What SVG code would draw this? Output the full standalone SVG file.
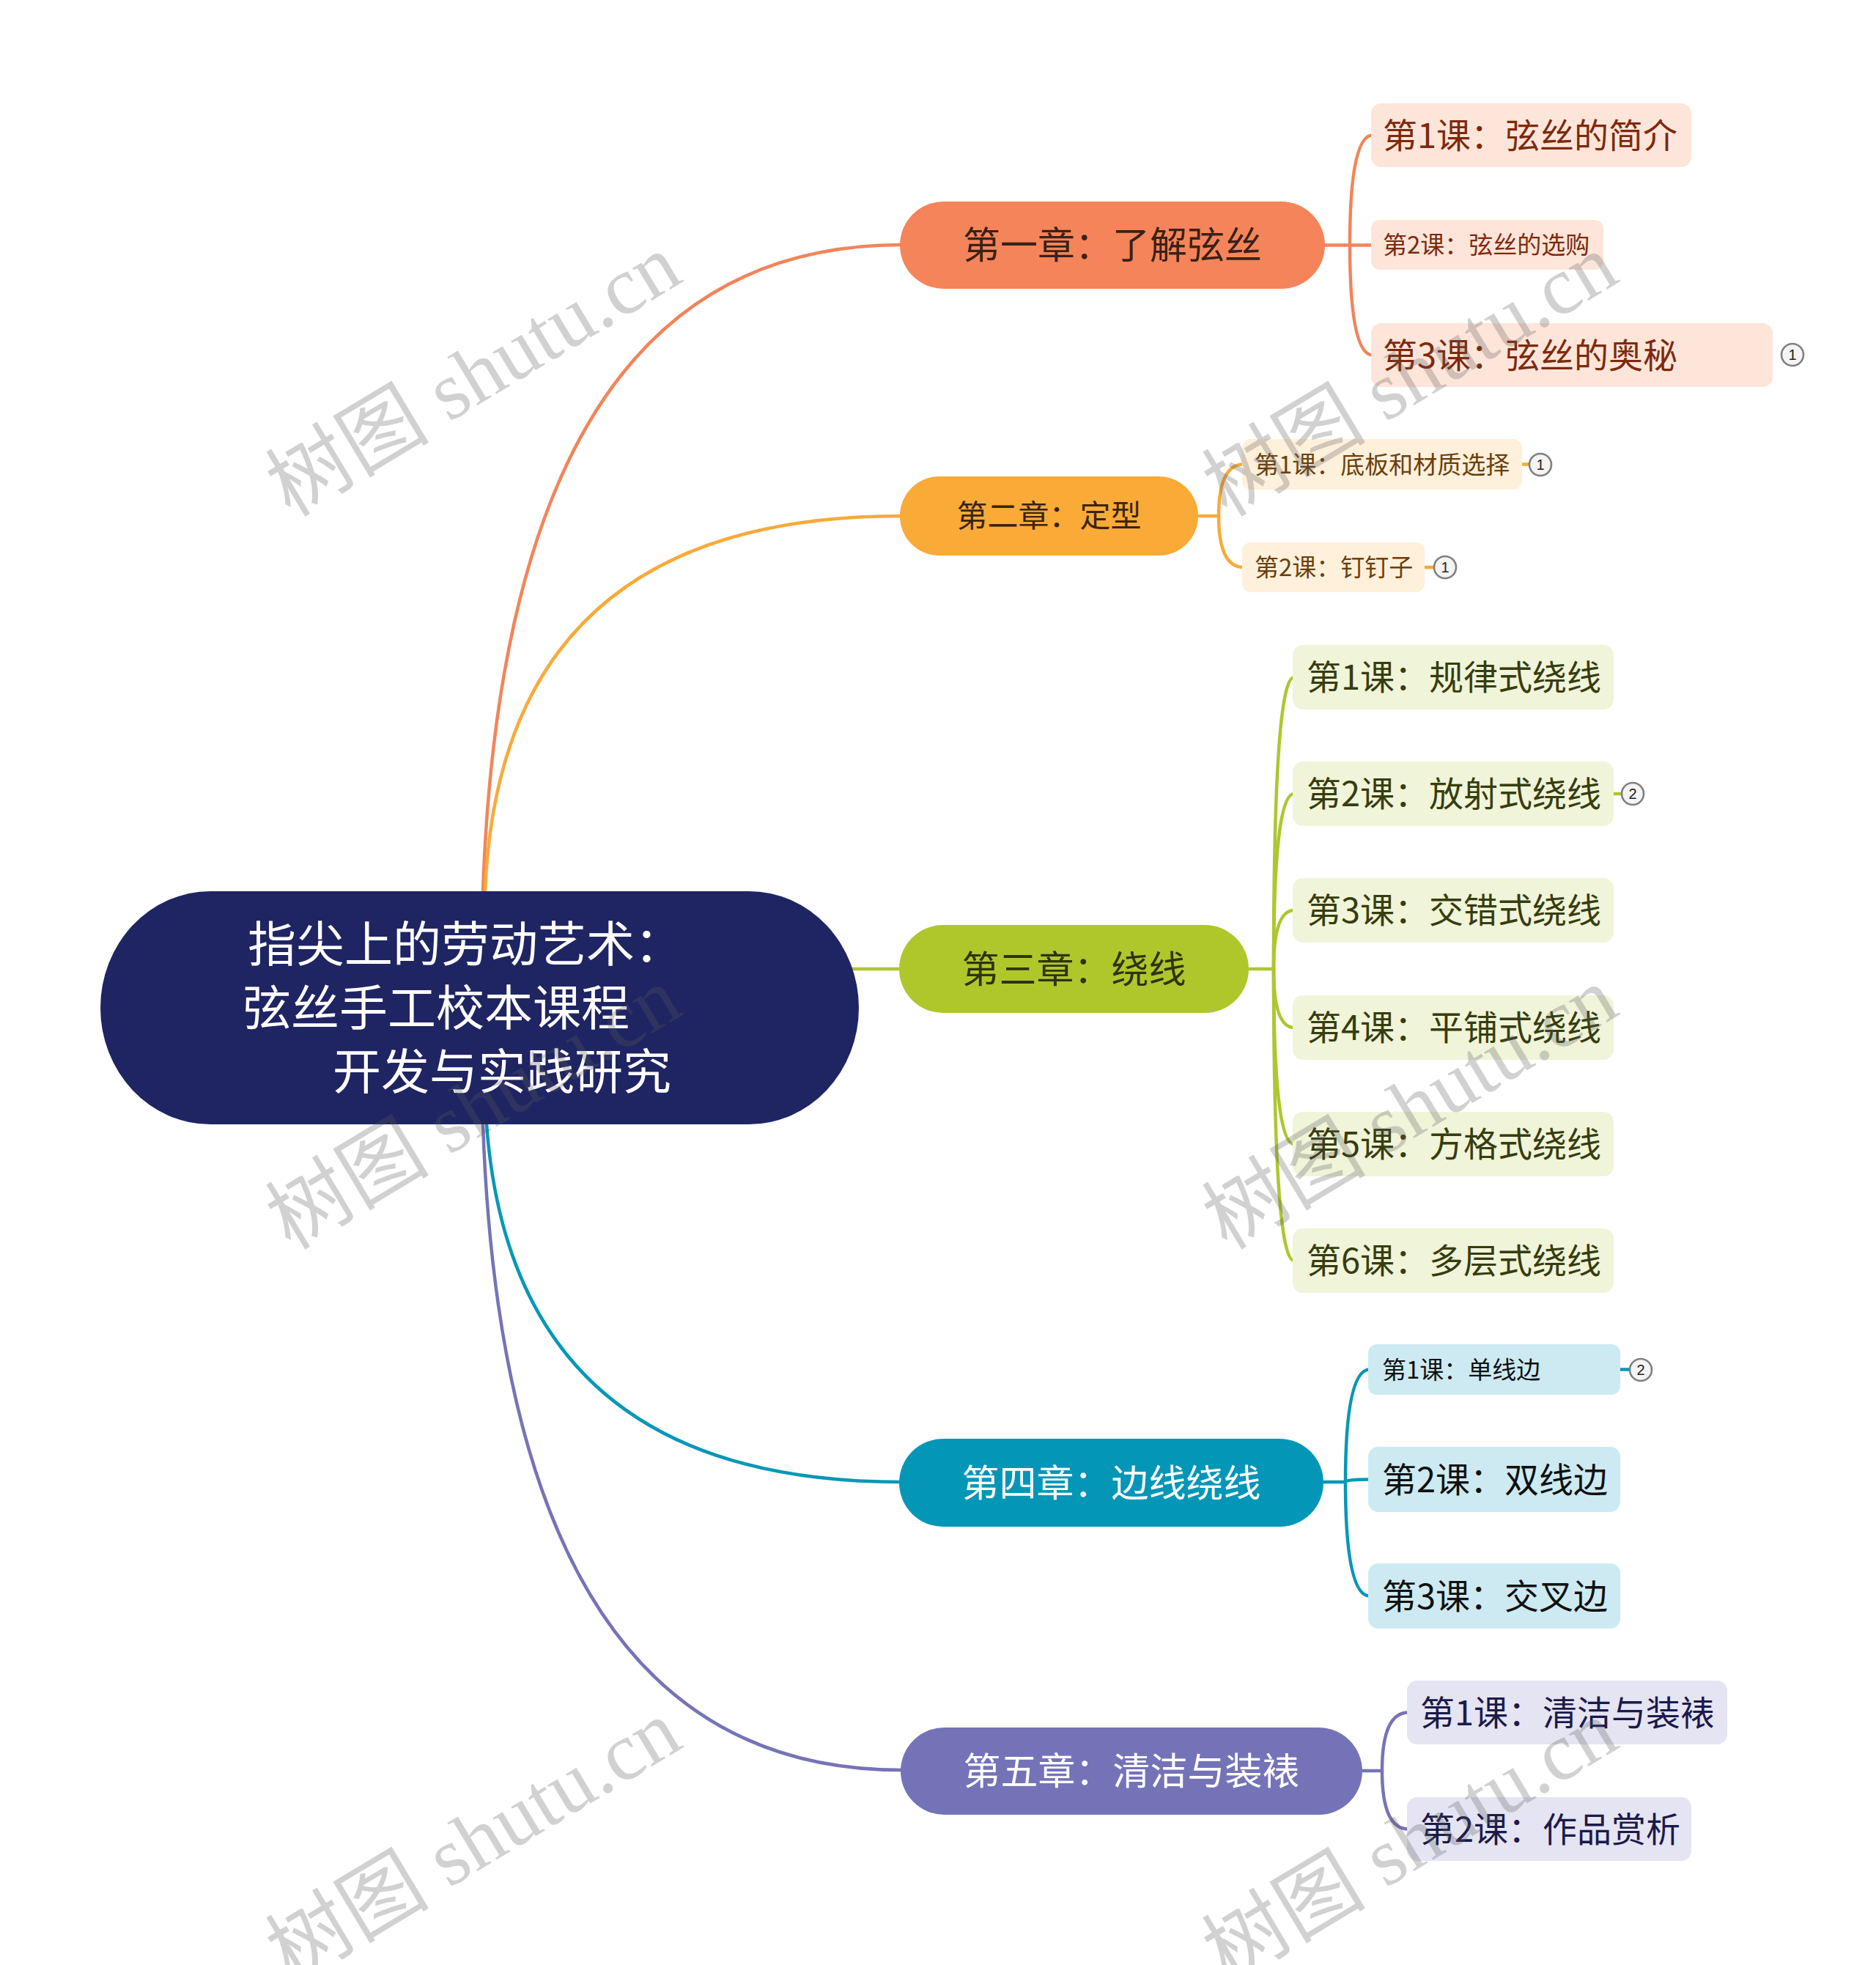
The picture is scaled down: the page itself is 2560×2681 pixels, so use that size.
<svg xmlns="http://www.w3.org/2000/svg" width="2560" height="2681" viewBox="0 0 2560 2681">
<style>
.cjk{font-family:"Noto Sans CJK SC","Noto Sans",sans-serif}
.conn path{fill:none;stroke-width:4.5;stroke-linecap:round}
.ch{font-size:51px}
.big{font-size:47px}
.sm{font-size:33px}
.badge circle{fill:#f4f4f4;stroke:#808080;stroke-width:2.6}
.badge text{font-family:"Liberation Sans",Arial,sans-serif;font-size:20px;fill:#222;text-anchor:middle}
.wm text{font-family:"Liberation Serif","Noto Sans CJK SC",serif;font-size:112px;fill:#5a5a5a;opacity:0.27;text-anchor:middle}
</style>
<rect width="2560" height="2681" fill="#ffffff"/>
<g id="connectors" class="conn">
  <path d="M659 1216 Q690 334 1230 334" stroke="#F2845A"/>
  <path d="M662 1216 Q683 704 1230 704" stroke="#F8AA38"/>
  <path d="M1160 1322 H1230" stroke="#AFC62E"/>
  <path d="M664 1534 Q700 2022 1230 2022" stroke="#0797B7"/>
  <path d="M659 1534 Q690 2415 1230 2415" stroke="#7673B7"/>
  <g stroke="#F2845A">
    <path d="M1800 334.5 H1842" stroke-width="5"/>
    <path d="M1842 334.5 Q1842 184.5 1873 184.5"/>
    <path d="M1842 334.5 H1873" stroke-width="5"/>
    <path d="M1842 334.5 Q1842 484.5 1873 484.5"/>
  </g>
  <g stroke="#F8AA38">
    <path d="M1630 704 H1663" stroke-width="5"/>
    <path d="M1663 704 Q1663 633.5 1697 633.5"/>
    <path d="M1663 704 Q1663 774 1697 774"/>
    <path d="M2070 633.5 H2088" stroke-width="5"/>
    <path d="M1940 774 H1958" stroke-width="5"/>
  </g>
  <g stroke="#AFC62E">
    <path d="M1700 1322 H1738" stroke-width="5"/>
    <path d="M1738 1322 Q1738 924 1766 924"/>
    <path d="M1738 1322 Q1738 1083 1766 1083"/>
    <path d="M1738 1322 Q1738 1242 1766 1242"/>
    <path d="M1738 1322 Q1738 1402 1766 1402"/>
    <path d="M1738 1322 Q1738 1561 1766 1561"/>
    <path d="M1738 1322 Q1738 1720 1766 1720"/>
    <path d="M2196 1083 H2214" stroke-width="5"/>
  </g>
  <g stroke="#0797B7">
    <path d="M1800 2022 H1836" stroke-width="5"/>
    <path d="M1836 2022 Q1836 1868.5 1869 1868.5"/>
    <path d="M1836 2022 Q1836 2018.5 1869 2018.5"/>
    <path d="M1836 2022 Q1836 2177.5 1869 2177.5"/>
    <path d="M2205 1868.5 H2225" stroke-width="5"/>
  </g>
  <g stroke="#7673B7">
    <path d="M1852 2416 H1886" stroke-width="5"/>
    <path d="M1886 2416 Q1886 2336.5 1922 2336.5"/>
    <path d="M1886 2416 Q1886 2495.5 1922 2495.5"/>
  </g>
</g>

<g id="root">
  <rect x="137" y="1216" width="1035" height="318" rx="150" ry="159" fill="#1F2563"/>
  <g class="cjk" font-size="66" fill="#ffffff">
    <text x="338" y="1312">指尖上的劳动艺术：</text>
    <text x="331" y="1399">弦丝手工校本课程</text>
    <text x="454" y="1486">开发与实践研究</text>
  </g>
</g>

<g id="ch1">
  <rect x="1228" y="275" width="580" height="119" rx="59.5" fill="#F5845A"/>
  <text class="cjk ch" x="1518" y="353" text-anchor="middle" fill="#3A2216">第一章：了解弦丝</text>
</g>
<g id="ch1-l1">
  <rect x="1871" y="141" width="437" height="87" rx="14" fill="#FDE5DA"/>
  <text class="cjk big" x="1887" y="201.5" fill="#7D2A0C">第1课：弦丝的简介</text>
</g>
<g id="ch1-l2">
  <rect x="1871" y="300" width="317" height="68" rx="12" fill="#FDE5DA"/>
  <text class="cjk sm" x="1887" y="346" fill="#7D2A0C">第2课：弦丝的选购</text>
</g>
<g id="ch1-l3">
  <rect x="1871" y="441" width="548" height="87" rx="14" fill="#FDE5DA"/>
  <text class="cjk big" x="1887" y="501.5" fill="#7D2A0C">第3课：弦丝的奥秘</text>
  <g class="badge"><circle cx="2446" cy="484" r="15"/><text x="2446" y="491">1</text></g>
</g>

<g id="ch2">
  <rect x="1228" y="650" width="407" height="108" rx="54" fill="#F9AA37"/>
  <text class="cjk" font-size="42" x="1431.5" y="719" text-anchor="middle" fill="#3A2410">第二章：定型</text>
</g>
<g id="ch2-l1">
  <rect x="1695" y="599" width="382" height="69" rx="12" fill="#FEF0DB"/>
  <text class="cjk sm" x="1712" y="645.5" fill="#6B3F0B">第1课：底板和材质选择</text>
  <g class="badge"><circle cx="2102" cy="634" r="15"/><text x="2102" y="641">1</text></g>
</g>
<g id="ch2-l2">
  <rect x="1695" y="740" width="249" height="68" rx="12" fill="#FEF0DB"/>
  <text class="cjk sm" x="1712" y="786" fill="#6B3F0B">第2课：钉钉子</text>
  <g class="badge"><circle cx="1972" cy="774" r="15"/><text x="1972" y="781">1</text></g>
</g>

<g id="ch3">
  <rect x="1227" y="1262" width="477" height="120" rx="60" fill="#B0C72C"/>
  <text class="cjk ch" x="1465.5" y="1340.5" text-anchor="middle" fill="#2F3310">第三章：绕线</text>
</g>
<g id="ch3-l1">
  <rect x="1764" y="880" width="438" height="88" rx="14" fill="#F0F4D9"/>
  <text class="cjk big" x="1783" y="941" fill="#363D0E">第1课：规律式绕线</text>
</g>
<g id="ch3-l2">
  <rect x="1764" y="1039" width="438" height="88" rx="14" fill="#F0F4D9"/>
  <text class="cjk big" x="1783" y="1100" fill="#363D0E">第2课：放射式绕线</text>
  <g class="badge"><circle cx="2228" cy="1083" r="15"/><text x="2228" y="1090">2</text></g>
</g>
<g id="ch3-l3">
  <rect x="1764" y="1198" width="438" height="88" rx="14" fill="#F0F4D9"/>
  <text class="cjk big" x="1783" y="1259" fill="#363D0E">第3课：交错式绕线</text>
</g>
<g id="ch3-l4">
  <rect x="1764" y="1358" width="438" height="88" rx="14" fill="#F0F4D9"/>
  <text class="cjk big" x="1783" y="1419" fill="#363D0E">第4课：平铺式绕线</text>
</g>
<g id="ch3-l5">
  <rect x="1764" y="1517" width="438" height="88" rx="14" fill="#F0F4D9"/>
  <text class="cjk big" x="1783" y="1578" fill="#363D0E">第5课：方格式绕线</text>
</g>
<g id="ch3-l6">
  <rect x="1764" y="1676" width="438" height="88" rx="14" fill="#F0F4D9"/>
  <text class="cjk big" x="1783" y="1737" fill="#363D0E">第6课：多层式绕线</text>
</g>

<g id="ch4">
  <rect x="1227" y="1963" width="579" height="120" rx="60" fill="#0496B7"/>
  <text class="cjk ch" x="1516.5" y="2041.5" text-anchor="middle" fill="#ffffff">第四章：边线绕线</text>
</g>
<g id="ch4-l1">
  <rect x="1867" y="1834" width="344" height="69" rx="12" fill="#CDEAF2"/>
  <text class="cjk sm" x="1886" y="1880.5" fill="#111111">第1课：单线边</text>
  <g class="badge"><circle cx="2239" cy="1869" r="15"/><text x="2239" y="1876">2</text></g>
</g>
<g id="ch4-l2">
  <rect x="1867" y="1974" width="344" height="89" rx="14" fill="#CDEAF2"/>
  <text class="cjk big" x="1886" y="2035.5" fill="#111111">第2课：双线边</text>
</g>
<g id="ch4-l3">
  <rect x="1867" y="2133" width="344" height="89" rx="14" fill="#CDEAF2"/>
  <text class="cjk big" x="1886" y="2194.5" fill="#111111">第3课：交叉边</text>
</g>

<g id="ch5">
  <rect x="1229" y="2357" width="630" height="119" rx="59.5" fill="#7573B8"/>
  <text class="cjk ch" x="1544" y="2435" text-anchor="middle" fill="#ffffff">第五章：清洁与装裱</text>
</g>
<g id="ch5-l1">
  <rect x="1920" y="2293" width="437" height="87" rx="14" fill="#E5E4F2"/>
  <text class="cjk big" x="1938" y="2353.5" fill="#1B1A4B">第1课：清洁与装裱</text>
</g>
<g id="ch5-l2">
  <rect x="1920" y="2452" width="388" height="87" rx="14" fill="#E5E4F2"/>
  <text class="cjk big" x="1938" y="2512.5" fill="#1B1A4B">第2课：作品赏析</text>
</g>

<g id="watermarks" class="wm">
  <text transform="translate(646 512) rotate(-31)" y="38">树图 shutu.cn</text>
  <text transform="translate(1924 512) rotate(-31)" y="38">树图 shutu.cn</text>
  <text transform="translate(646 1512) rotate(-31)" y="38">树图 shutu.cn</text>
  <text transform="translate(1924 1512) rotate(-31)" y="38">树图 shutu.cn</text>
  <text transform="translate(646 2512) rotate(-31)" y="38">树图 shutu.cn</text>
  <text transform="translate(1924 2512) rotate(-31)" y="38">树图 shutu.cn</text>
</g>
</svg>
